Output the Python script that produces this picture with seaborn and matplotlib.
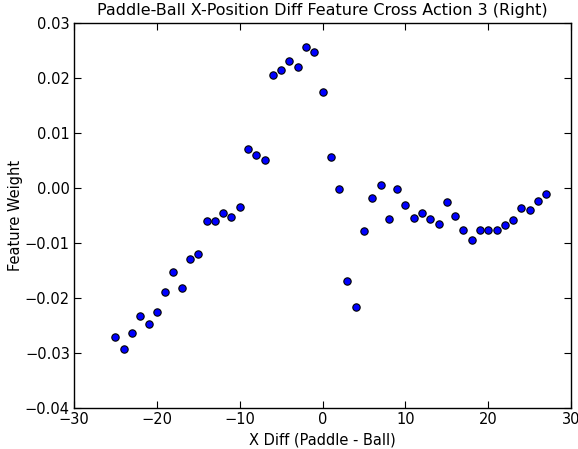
import matplotlib
matplotlib.use("Agg")
import matplotlib.pyplot as plt
import seaborn as sns
import pandas as pd

# Paddle minus ball x-position offsets and the learned weight for each
x_diff = list(range(-25, 28))
weights = [
    -0.0271, -0.0293, -0.0264, -0.0233, -0.0247, -0.0225, -0.0189, -0.0153,
    -0.0182, -0.0129, -0.0120, -0.0060, -0.0060, -0.0045, -0.0053, -0.0035,
    0.0071, 0.0060, 0.0051, 0.0206, 0.0215, 0.0230, 0.0220, 0.0256,
    0.0248, 0.0174, 0.0056, -0.0002, -0.0169, -0.0216, -0.0078, -0.0018,
    0.0005, -0.0056, -0.0002, -0.0030, -0.0055, -0.0045, -0.0056, -0.0066,
    -0.0026, -0.0051, -0.0076, -0.0094, -0.0076, -0.0077, -0.0076, -0.0067,
    -0.0058, -0.0036, -0.0040, -0.0024, -0.0011,
]
x_ticks = [-30, -20, -10, 0, 10, 20, 30]
y_ticks = [-0.04, -0.03, -0.02, -0.01, 0.00, 0.01, 0.02, 0.03]

df = pd.DataFrame({"x": x_diff, "w": weights})

sns.set_style("ticks")
plt.rcParams.update({
    "font.family": ["DejaVu Sans"],
    "text.color": "black",
    "axes.labelcolor": "black",
    "xtick.color": "black",
    "ytick.color": "black",
    "xtick.direction": "in",
    "ytick.direction": "in",
    "xtick.top": True,
    "ytick.right": True,
    "xtick.major.size": 5,
    "ytick.major.size": 5,
    "axes.linewidth": 1.0,
    "axes.edgecolor": "black",
})

fig = plt.figure(figsize=(5.78, 4.49), dpi=100)
ax = fig.add_axes([0.128, 0.091, 0.860, 0.858])

sns.scatterplot(data=df, x="x", y="w", ax=ax, color="#0000ff",
                edgecolor="black", linewidth=0.8, s=28, zorder=3)

ax.set_xlim(-30, 30)
ax.set_ylim(-0.04, 0.03)
ax.set_xticks(x_ticks)
ax.set_yticks(y_ticks)
ax.set_xticklabels([f"{t}".replace("-", "\u2212") for t in x_ticks], fontsize=10.5)
ax.set_yticklabels([f"{t:.2f}".replace("-", "\u2212") for t in y_ticks], fontsize=10.5)
ax.tick_params(pad=3)
ax.set_xlabel("X Diff (Paddle - Ball)", fontsize=10.5)
ax.set_ylabel("Feature Weight", fontsize=10.5, labelpad=1)
ax.set_title("Paddle-Ball X-Position Diff Feature Cross Action 3 (Right)",
             fontsize=11.5)
for s in ax.spines.values():
    s.set_visible(True)

fig.savefig("out.png", dpi=100)
